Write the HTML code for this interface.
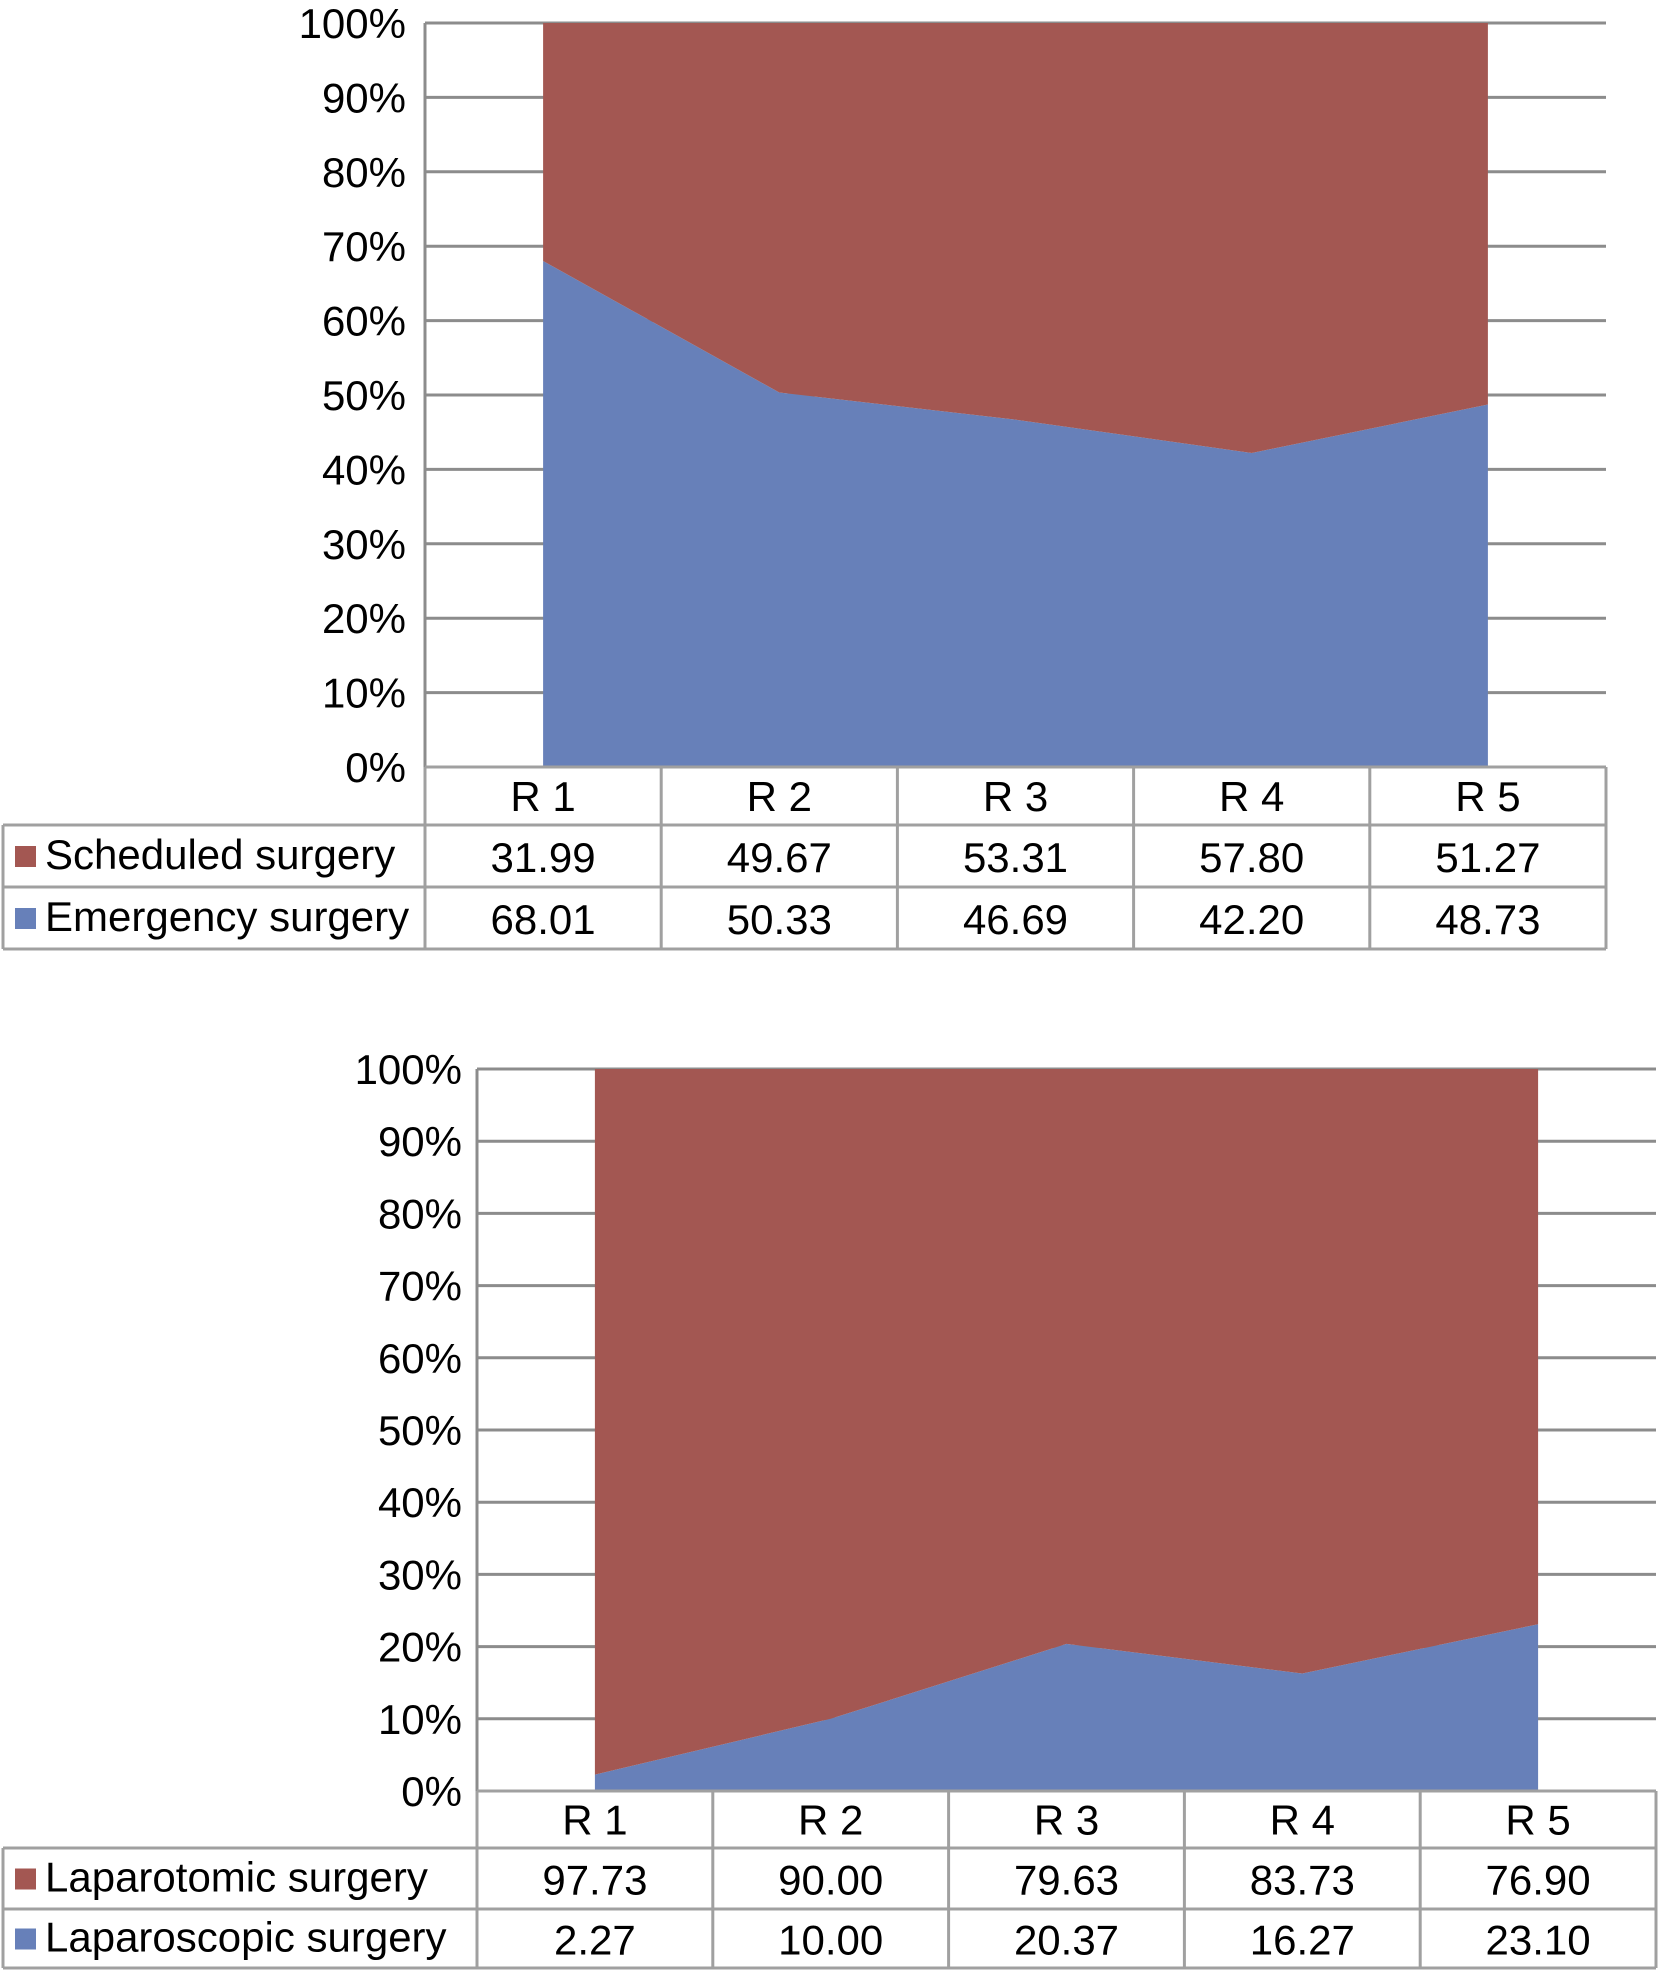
<!DOCTYPE html>
<html><head><meta charset="utf-8"><style>
html,body{margin:0;padding:0;background:#fff;}
svg{display:block;}
text{font-family:"Liberation Sans",Arial,sans-serif;fill:#000;}
</style></head><body>
<svg id="root" width="1659" height="1978" viewBox="0 0 1659 1978" xmlns="http://www.w3.org/2000/svg"></svg>
<script>
const categories = ["R 1","R 2","R 3","R 4","R 5"];
const yTicks = [0,10,20,30,40,50,60,70,80,90,100];
const yTickLabels = ["0%","10%","20%","30%","40%","50%","60%","70%","80%","90%","100%"];
const emergencyValues = [68.01,50.33,46.69,42.20,48.73];
const scheduledValues = [31.99,49.67,53.31,57.80,51.27];
const emergencyLabels = ["68.01","50.33","46.69","42.20","48.73"];
const scheduledLabels = ["31.99","49.67","53.31","57.80","51.27"];
const laparoscopicValues = [2.27,10.00,20.37,16.27,23.10];
const laparotomicValues = [97.73,90.00,79.63,83.73,76.90];
const laparoscopicLabels = ["2.27","10.00","20.37","16.27","23.10"];
const laparotomicLabels = ["97.73","90.00","79.63","83.73","76.90"];

const NS="http://www.w3.org/2000/svg";
const root=document.getElementById('root');
const RED="#A35752", BLUE="#6780B9", GRID="#8c8c8c", BORDER="#a0a0a0";
const FS=42;

function mk(tag,attrs,parent){const e=document.createElementNS(NS,tag);for(const k in attrs)e.setAttribute(k,attrs[k]);(parent||root).appendChild(e);return e;}

function drawChart(prefix, L, R, top, bottom, rowBottoms, tickRight, series){
  const g=mk('g',{});
  
  
  const colW=(R-L)/categories.length;
  const x=i=>L+colW*(i+0.5);
  const y=v=>bottom-(v/100)*(bottom-top);
  yTicks.forEach((t,i)=>{
    const ln=mk('line',{x1:L,x2:R,y1:y(t),y2:y(t),stroke:GRID,'stroke-width':3},g);
    
    
    const tx=mk('text',{x:tickRight,y:y(t)+15,'text-anchor':'end','font-size':FS},g);
    tx.textContent=yTickLabels[i];
    
    
  });
  const lower=series[1].values, upper=series[0].values;
  let p1=categories.map((c,i)=>x(i)+','+y(lower[i])).join(' ');
  p1+=' '+x(categories.length-1)+','+y(0)+' '+x(0)+','+y(0);
  const a1=mk('polygon',{points:p1,fill:BLUE},g);
  
  
  let p2=categories.map((c,i)=>x(i)+','+y(lower[i]+upper[i])).join(' ');
  p2+=' '+categories.map((c,i)=>x(categories.length-1-i)+','+y(lower[categories.length-1-i])).join(' ');
  const a2=mk('polygon',{points:p2,fill:RED},g);
  
  
  const ax=mk('line',{x1:L,x2:L,y1:top,y2:bottom,stroke:GRID,'stroke-width':3},g);
  
  
  const [hb,r1b,r2b]=rowBottoms;
  const tb=mk('g',{stroke:BORDER,'stroke-width':3,fill:'none'},g);
  
  
  mk('line',{x1:L,x2:R,y1:bottom,y2:bottom},tb);
  mk('line',{x1:3,x2:R,y1:hb,y2:hb},tb);
  mk('line',{x1:3,x2:R,y1:r1b,y2:r1b},tb);
  mk('line',{x1:3,x2:R,y1:r2b,y2:r2b},tb);
  mk('line',{x1:3,x2:3,y1:hb,y2:r2b},tb);
  for(let i=0;i<=categories.length;i++){mk('line',{x1:L+colW*i,x2:L+colW*i,y1:bottom,y2:r2b},tb);}
  categories.forEach((c,i)=>{
    const t=mk('text',{x:x(i),y:(bottom+hb)/2+15,'text-anchor':'middle','font-size':FS},g);
    t.textContent=c;
    
    
  });
  const rows=[[series[0],hb,r1b],[series[1],r1b,r2b]];
  rows.forEach(([s,a,b])=>{
    const sq=mk('rect',{x:15,y:(a+b)/2-10,width:21,height:21,fill:s.color},g);
    
    
    const lt=mk('text',{x:45,y:(a+b)/2+13,'font-size':FS},g);
    lt.textContent=s.name;
    
    
    s.labels.forEach((v,i)=>{
      const vt=mk('text',{x:x(i),y:(a+b)/2+16,'text-anchor':'middle','font-size':FS},g);
      vt.textContent=v;
      
      
    });
  });
}

drawChart('surgery-type',425,1606,23,767,[825,887,949],406,[
  {key:'scheduled',name:'Scheduled surgery',values:scheduledValues,labels:scheduledLabels,color:RED},
  {key:'emergency',name:'Emergency surgery',values:emergencyValues,labels:emergencyLabels,color:BLUE}
]);
drawChart('surgery-approach',477,1656,1069,1791,[1848,1909,1968],462,[
  {key:'laparotomic',name:'Laparotomic surgery',values:laparotomicValues,labels:laparotomicLabels,color:RED},
  {key:'laparoscopic',name:'Laparoscopic surgery',values:laparoscopicValues,labels:laparoscopicLabels,color:BLUE}
]);
</script>
</body></html>
